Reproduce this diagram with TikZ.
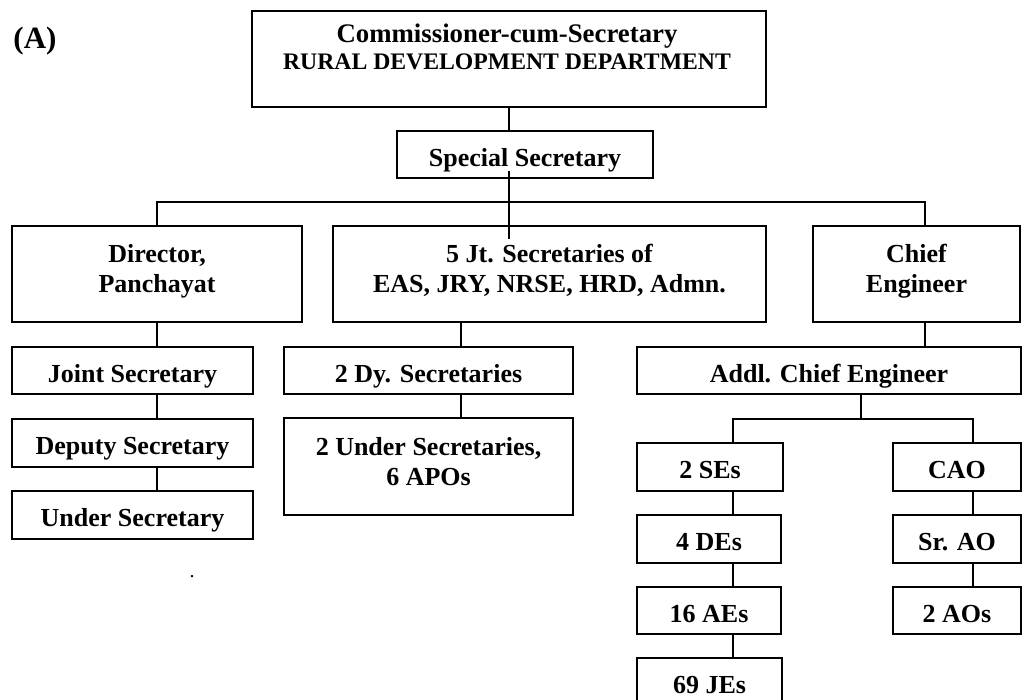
\documentclass[tikz,border=0pt]{standalone}
\usepackage{fontspec}
\setmainfont{Liberation Serif}
\begin{document}
\begin{tikzpicture}[x=1pt,y=-1pt,
  box/.style={draw=black, line width=1.4pt, rectangle, inner sep=0pt},
  lbl/.style={font=\fontsize{26}{30}\selectfont\bfseries, inner sep=0pt, text height=23pt, text depth=0pt},
  ln/.style={font=\fontsize{26}{30}\selectfont\bfseries, inner sep=0pt, anchor=base},
  conn/.style={line width=1.4pt, line cap=rect}]
\useasboundingbox (0,0) rectangle (1022,699);
% helper to make a box from corners
\newcommand{\bx}[6]{\node[box, #6, minimum width={#4-#2}, minimum height={#5-#3}] (#1) at ({(#2+#4)/2},{(#3+#5)/2}) {};}
% label
\node[font=\fontsize{31}{34}\selectfont\bfseries, inner sep=0pt, anchor=base] (lblA) at (35,48) {(A)};
% level 1
\bx{top}{252}{11}{766}{107}{}
\node[ln, font=\fontsize{26.8}{30}\selectfont\bfseries] (topa) at (507,42) {Commissioner-cum-Secretary};
\node[ln, font=\fontsize{23.7}{27}\selectfont\bfseries] (topb) at (507,69) {RURAL DEVELOPMENT DEPARTMENT};
% level 2
\node[box, lbl, minimum width=256, minimum height=47] (spec) at (525,154.5) {Special Secretary};
% level 3
\bx{dir}{12}{226}{302}{322}{}
\node[ln] (dira) at (157,262) {Director,};
\node[ln] (dirb) at (157,292) {Panchayat};
\bx{jts}{333}{226}{766}{322}{}
\node[ln] (jtsa) at (549.5,262) {5 Jt. Secretaries of};
\node[ln] (jtsb) at (549.5,292) {EAS, JRY, NRSE, HRD, Admn.};
\bx{chief}{813}{226}{1020}{322}{}
\node[ln] (chiefa) at (916.5,262) {Chief};
\node[ln] (chiefb) at (916.5,292) {Engineer};
% level 4
\node[box, lbl, minimum width=241, minimum height=47] (jsec) at (132.5,370.5) {Joint Secretary};
\node[box, lbl, minimum width=289, minimum height=47] (dys) at (428.5,370.5) {2 Dy. Secretaries};
\node[box, lbl, minimum width=384, minimum height=47] (ace) at (829,370.5) {Addl. Chief Engineer};
% left column
\node[box, lbl, minimum width=241, minimum height=48] (dep) at (132.5,443) {Deputy Secretary};
\node[box, lbl, minimum width=241, minimum height=48] (usec) at (132.5,515) {Under Secretary};
% middle column
\bx{us}{284}{418}{573}{515}{}
\node[ln] (usa) at (428.5,455) {2 Under Secretaries,};
\node[ln] (usb) at (428.5,485) {6 APOs};
% engineering column
\node[box, lbl, minimum width=146, minimum height=48] (se) at (710,467) {2 SEs};
\node[box, lbl, minimum width=144, minimum height=48] (de) at (709,539) {4 DEs};
\node[box, lbl, minimum width=144, minimum height=47] (ae) at (709,610.5) {16 AEs};
\node[box, lbl, minimum width=145, minimum height=48] (je) at (709.5,682) {69 JEs};
% accounts column
\node[box, lbl, minimum width=128, minimum height=48] (cao) at (957,467) {CAO};
\node[box, lbl, minimum width=128, minimum height=48] (srao) at (957,539) {Sr. AO};
\node[box, lbl, minimum width=128, minimum height=47] (ao) at (957,610.5) {2 AOs};
% stray dot
\node[font=\fontsize{20}{20}\selectfont, inner sep=0pt, anchor=base] (dot) at (192,577) {.};
% connector x positions
\coordinate (xtop) at (509,0);
\coordinate (xs1) at (509,172);
\coordinate (xs2) at (509,238);
\coordinate (busR) at (925,202);
\coordinate (xmid) at (461,0);
\coordinate (xce) at (925,0);
\coordinate (xace) at (861,0);
\coordinate (bus2) at (861,419);
\coordinate (xse) at (733,419);
\coordinate (xcao) at (973,419);
% connectors
\draw[conn] (top.south -| xtop) -- (spec.north -| xtop);
\draw[conn] (xs1) -- (xs2);
\draw[conn] (dir.north) |- (busR) -- (busR |- chief.north);
\draw[conn] (dir.south) -- (dir.south |- jsec.north);
\draw[conn] (dir.south |- jsec.south) -- (dir.south |- dep.north);
\draw[conn] (dir.south |- dep.south) -- (dir.south |- usec.north);
\draw[conn] (jts.south -| xmid) -- (dys.north -| xmid);
\draw[conn] (dys.south -| xmid) -- (us.north -| xmid);
\draw[conn] (chief.south -| xce) -- (ace.north -| xce);
\draw[conn] (ace.south -| xace) -- (bus2);
\draw[conn] (se.north -| xse) -- (xse) -- (xcao) -- (cao.north -| xcao);
\draw[conn] (se.south -| xse) -- (de.north -| xse);
\draw[conn] (de.south -| xse) -- (ae.north -| xse);
\draw[conn] (ae.south -| xse) -- (je.north -| xse);
\draw[conn] (cao.south -| xcao) -- (srao.north -| xcao);
\draw[conn] (srao.south -| xcao) -- (ao.north -| xcao);
\end{tikzpicture}
\end{document}
